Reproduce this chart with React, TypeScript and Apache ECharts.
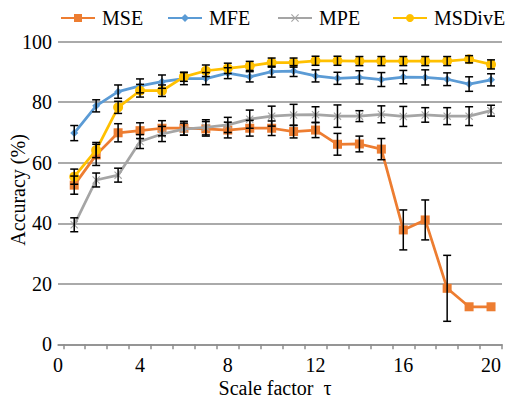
import React, { useEffect, useRef } from "react";
import * as echarts from "echarts";

// Scale factor categories
const scales = [1, 2, 3, 4, 5, 6, 7, 8, 9, 10, 11, 12, 13, 14, 15, 16, 17, 18, 19, 20];
const xTickLabels = [0, 4, 8, 12, 16, 20];
const yTickLabels = [0, 20, 40, 60, 80, 100];

const seriesNames = ["MSE", "MFE", "MPE", "MSDivE"];

const mse = [52.6, 62.6, 69.9, 70.6, 71.4, 71.4, 71.2, 70.8, 71.4, 71.4, 70.3, 70.8, 66.1, 66.2, 64.5, 37.8, 41.1, 18.5, 12.4, 12.4];
const mseErr = [3, 3.5, 3, 2.6, 2.5, 2.3, 2.4, 2.6, 2.6, 2.4, 2.1, 2.5, 3.6, 2.6, 3.5, 6.6, 6.6, 10.9, 0, 0];

const mfe = [69.8, 78.8, 83.5, 85.4, 86.8, 87.8, 87.8, 89.6, 88.4, 90.1, 90.3, 88.7, 87.9, 88.2, 87.5, 88.3, 88.2, 87.6, 86.0, 87.4];
const mfeErr = [2.5, 2, 2.2, 2.3, 2.2, 2, 2, 1.8, 1.7, 1.8, 1.8, 2, 2, 2.2, 2.3, 2.2, 2.5, 2.1, 2.4, 2];

const mpe = [39.5, 54.3, 55.9, 67.0, 69.5, 71.1, 71.7, 72.5, 74.4, 75.4, 75.8, 75.9, 75.4, 75.4, 76.0, 75.3, 75.8, 75.4, 75.4, 77.2];
const mpeErr = [2.3, 2.3, 2.3, 2.3, 2.5, 2, 2.5, 2.5, 3, 3.3, 3.5, 2.6, 3.7, 1.8, 2.8, 3.3, 2.4, 2.8, 3.1, 1.8];

const msdive = [55.4, 64.2, 78.3, 83.8, 83.8, 88.4, 90.4, 91.2, 92.0, 93.1, 93.1, 93.7, 93.7, 93.6, 93.6, 93.6, 93.6, 93.6, 94.2, 92.5];
const msdiveErr = [2.5, 2.5, 2, 2.1, 1.9, 1.5, 1.9, 1.7, 1.5, 1.5, 1.5, 1.5, 1.5, 1.5, 1.5, 1.5, 1.5, 1.5, 1.2, 1.5];

const colors = ["#ED7D31", "#5B9BD5", "#A5A5A5", "#FFC000"];
const FONT = "Liberation Serif";
const GRID_COLOR = "#8e8e8e";

const X_PATH = "path://M0,1L1,0L5,4L9,0L10,1L6,5L10,9L9,10L5,6L1,10L0,9L4,5Z";

export default function App() {
  const ref = useRef<HTMLDivElement>(null);

  useEffect(() => {
    document.body.style.margin = "0";
    if (!ref.current) return;
    const chart = echarts.init(ref.current, undefined, { renderer: "svg" });

    const xMin = 0.26;
    const xMax = 20.5;

    const values = [mse, mfe, mpe, msdive];
    const errs = [mseErr, mfeErr, mpeErr, msdiveErr];
    const symbols = ["rect", "diamond", X_PATH, "circle"];
    const symbolSizes = [9, 8, 8, 10];

    const lineSeries = seriesNames.map((name, i) => ({
      name,
      type: "line",
      data: scales.map((x, j) => [x, values[i][j]]),
      symbol: symbols[i],
      symbolSize: symbolSizes[i],
      showSymbol: true,
      color: colors[i],
      lineStyle: { width: 2.75, color: colors[i] },
      itemStyle: { color: colors[i] },
      z: 2 + i,
    }));

    const errSeries = seriesNames.map((name, i) => ({
      name: name + "-err",
      type: "custom",
      data: scales.map((x, j) => [x, values[i][j] - errs[i][j], values[i][j] + errs[i][j]]),
      encode: { x: 0, y: [1, 2] },
      z: 10,
      silent: true,
      renderItem: (params: any, api: any) => {
        const x = api.value(0);
        const lo = api.value(1);
        const hi = api.value(2);
        if (hi - lo < 0.01) return { type: "group", children: [] };
        const p1 = api.coord([x, lo]);
        const p2 = api.coord([x, hi]);
        const hw = 4;
        const style = { stroke: "#000", lineWidth: 1.5 };
        return {
          type: "group",
          children: [
            { type: "line", shape: { x1: p1[0], y1: p1[1], x2: p2[0], y2: p2[1] }, style },
            { type: "line", shape: { x1: p1[0] - hw, y1: p1[1], x2: p1[0] + hw, y2: p1[1] }, style },
            { type: "line", shape: { x1: p2[0] - hw, y1: p2[1], x2: p2[0] + hw, y2: p2[1] }, style },
          ],
        };
      },
    }));

    const legendLefts = [60, 167, 277, 392];

    const option: any = {
      animation: false,
      backgroundColor: "#fff",
      textStyle: { fontFamily: FONT },
      grid: { left: 58, right: 4, top: 41.7, bottom: 53.7, containLabel: false },
      legend: seriesNames.map((n, i) => ({
        data: [n],
        left: legendLefts[i],
        top: 8,
        padding: 0,
        itemWidth: 34,
        itemHeight: 10,
        itemGap: 0,
        textStyle: { fontFamily: FONT, fontSize: 20, color: "#000", padding: [0, 0, 0, 2] },
      })),
      xAxis: {
        type: "value",
        min: xMin,
        max: xMax,
        axisLine: { show: true, lineStyle: { color: GRID_COLOR, width: 1.5 } },
        axisTick: {
          show: true,
          length: 5,
          customValues: scales.map((x) => x - 0.5).concat([scales[scales.length - 1] + 0.5]),
          lineStyle: { color: GRID_COLOR, width: 1.5 },
        },
        axisLabel: {
          customValues: xTickLabels.map((v) => Math.max(v, xMin)),
          formatter: (v: number) => String(Math.round(v)),
          margin: 11,
          fontSize: 20,
          fontFamily: FONT,
          color: "#000",
        },
        splitLine: { show: false },
      },
      yAxis: {
        type: "value",
        min: yTickLabels[0],
        max: yTickLabels[yTickLabels.length - 1],
        interval: 20,
        axisLine: { show: false },
        axisTick: { show: false },
        axisLabel: { margin: 6, fontSize: 20, fontFamily: FONT, color: "#000" },
        splitLine: { lineStyle: { color: GRID_COLOR, width: 1.5 } },
      },
      graphic: [
        {
          type: "text",
          x: 18,
          y: 190,
          rotation: Math.PI / 2,
          style: {
            text: "Accuracy (%)",
            fontSize: 20,
            fontFamily: FONT,
            fill: "#000",
            align: "center",
            verticalAlign: "middle",
          },
        },
        {
          type: "text",
          x: 275,
          y: 388,
          style: {
            text: "Scale factor  τ",
            fontSize: 20,
            fontFamily: FONT,
            fill: "#000",
            align: "center",
            verticalAlign: "middle",
          },
        },
      ],
      series: [...lineSeries, ...errSeries],
    };

    chart.setOption(option);
    return () => chart.dispose();
  }, []);

  return (
    <div
      ref={ref}
      style={{ position: "absolute", left: 0, top: 0, width: 506, height: 398 }}
    />
  );
}
